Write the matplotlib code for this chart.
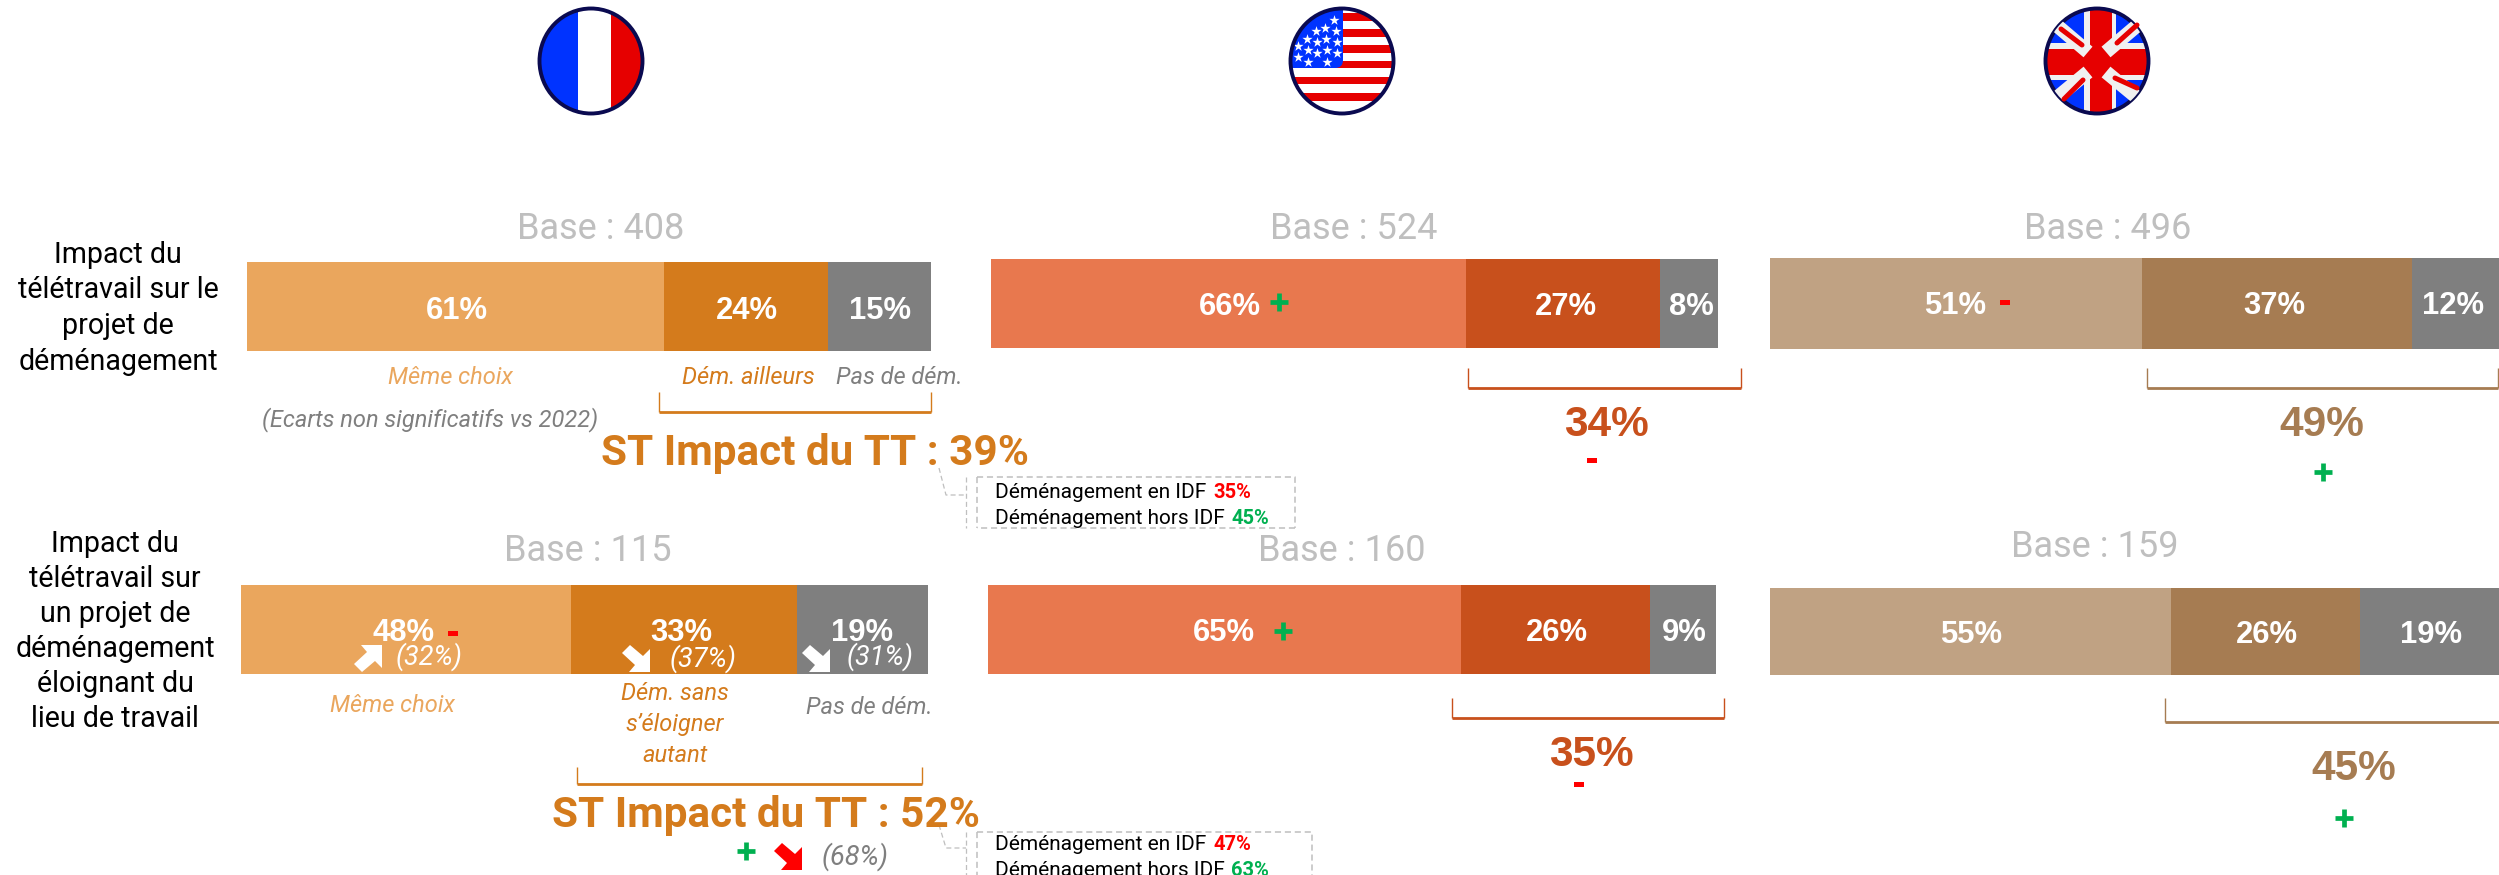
import matplotlib
matplotlib.use("Agg")
import matplotlib.pyplot as plt
from matplotlib.patches import Ellipse, Rectangle, Polygon, FancyBboxPatch

W, H = 2499, 875

# ── data ──────────────────────────────────────────────────────────────────────
fr_top = [61, 24, 15]
us_top = [66, 27, 8]
uk_top = [51, 37, 12]
fr_bot = [48, 33, 19]
us_bot = [65, 26, 9]
uk_bot = [55, 26, 19]

bases = ["Base : 408", "Base : 524", "Base : 496", "Base : 115", "Base : 160", "Base : 159"]
row_label_top = ["Impact du", "télétravail sur le", "projet de", "déménagement"]
row_label_bot = ["Impact du", "télétravail sur", "un projet de", "déménagement", "éloignant du", "lieu de travail"]
fr_prev = ["(32%)", "(37%)", "(31%)"]
st_text = ["ST Impact du TT : 39%", "ST Impact du TT : 52%"]
us_uk_totals = ["34%", "49%", "35%", "45%"]
idf_in = ["35%", "47%"]
idf_out = ["45%", "63%"]

# ── style ─────────────────────────────────────────────────────────────────────
FR = ("#EAA65D", "#D47B1C", "#7F7F7F")
US = ("#E8784E", "#C8501C", "#7F7F7F")
UK = ("#C0A283", "#A67C52", "#7F7F7F")
GREEN, RED, GREY, LGREY = "#00B050", "#FF0000", "#7F7F7F", "#BFBFBF"
SANS = "Roboto"
NUM = "Liberation Sans"

fig = plt.figure(figsize=(W / 100, H / 100), dpi=100)
ax = fig.add_axes([0, 0, 1, 1])
ax.set_xlim(0, W)
ax.set_ylim(H, 0)
ax.axis("off")


def stacked(vals, colors, x0, x1, y0, y1, label_xs, label_y):
    scale = (x1 - x0) / sum(vals)
    left = x0
    for v, c, lx in zip(vals, colors, label_xs):
        ax.barh(y0, v * scale, height=y1 - y0, left=left, align="edge", color=c, lw=0)
        ax.text(lx, label_y + 3, f"{v}%", color="white", fontsize=22.3, fontweight="bold",
                family=NUM, ha="center", va="center")
        left += v * scale


def bracket(x0, x1, y0, y1, color):
    ax.plot([x0, x0], [y0, y1], color=color, lw=1, solid_capstyle="butt")
    ax.plot([x1, x1], [y0, y1], color=color, lw=1, solid_capstyle="butt")
    ax.plot([x0, x1], [y1, y1], color=color, lw=2, solid_capstyle="butt")


def plus(x, y, size=9):
    ax.plot([x - size, x + size], [y, y], color=GREEN, lw=3.4, solid_capstyle="butt")
    ax.plot([x, x], [y - size, y + size], color=GREEN, lw=3.4, solid_capstyle="butt")


def minus(x, y):
    ax.add_patch(Rectangle((x - 5, y - 2.5), 10, 5, color=RED, lw=0))


def block_arrow(x, y, color, up=False):
    s = 1 if up else -1
    pts = [(-7, -13), (14, -13), (14, 10), (7, 3), (-6, 14), (-14, 6), (-1, -6)]
    pts = [(x + px, y + s * py) for px, py in pts]
    ax.add_patch(Polygon(pts, closed=True, color=color, lw=0))


def sublabel(x, y, txt, color, fs=17):
    ax.text(x, y, txt, color=color, fontsize=fs, style="italic", family=SANS, ha="center", va="center")


def callout(y0, y1, ytxt1, ytxt2, xr, lead_y0, lead_y1, p_in, p_out):
    ls = (0, (4, 2.5))
    ax.plot([977, xr, xr], [y0, y0, y1], color=LGREY, lw=1.1, ls=ls)
    ax.plot([977, 977], [y0, y1], color=LGREY, lw=1.1, ls=ls)
    ax.plot([xr, 977], [y1, y1], color=LGREY, lw=1.1, ls=ls)
    ax.plot([966, 966], [y0, y1], color=LGREY, lw=0.9, ls=ls)
    ax.plot([939, 946, 966], [lead_y0, lead_y1, lead_y1], color=LGREY, lw=0.9, ls=ls)
    ax.text(995, ytxt1, "Déménagement en IDF", fontsize=15, family=SANS, va="center", color="black")
    ax.text(1213, ytxt1, p_in, fontsize=14.5, family=SANS, fontweight="bold", va="center", color=RED)
    ax.text(995, ytxt2, "Déménagement hors IDF", fontsize=15, family=SANS, va="center", color="black")
    ax.text(1231, ytxt2, p_out, fontsize=14.5, family=SANS, fontweight="bold", va="center", color=GREEN)


# ── flags ─────────────────────────────────────────────────────────────────────
NAVY = "#0A0A50"
R, B = "#E60000", "#0033FF"
WH = "#F0F0F0"


def flag_clip(cx, cy):
    e = Ellipse((cx, cy), 103, 105, fc="white", ec="none")
    ax.add_patch(e)
    return e


def flag_ring(cx, cy):
    ax.add_patch(Ellipse((cx, cy), 103, 105, fc="none", ec=NAVY, lw=2.8))


# France
clip = flag_clip(591, 61)
for x, w, c in [(539, 39, B), (578, 33, "white"), (611, 33, R)]:
    ax.add_patch(Rectangle((x, 5), w, 112, color=c, lw=0, clip_path=clip))
flag_ring(591, 61)

# USA
clip = flag_clip(1342, 61)
for y, h in [(13, 8), (29, 8), (45, 8), (61, 7), (77, 7), (93, 8)]:
    ax.add_patch(Rectangle((1285, y), 115, h, color=R, lw=0, clip_path=clip))
ax.add_patch(FancyBboxPatch((1280, 0), 63, 68, boxstyle="round,pad=0,rounding_size=8",
                            fc=B, ec="none", clip_path=clip))
star_x = [1334, 1325, 1316, 1336, 1307, 1326, 1317, 1337, 1298, 1308, 1327, 1317, 1337, 1298, 1308, 1327]
star_y = [20, 28, 31, 31, 39, 39, 42, 42, 46, 50, 50, 53, 53, 57, 62, 62]
ax.scatter(star_x, star_y, marker="*", s=60, color="white", lw=0)
flag_ring(1342, 61)

# UK
clip = flag_clip(2097, 61)
ax.add_patch(Rectangle((2040, 5), 120, 112, color=B, lw=0, clip_path=clip))
diag_x = [(2048, 2088), (2146, 2106), (2048, 2088), (2146, 2106)]
diag_y = [(18, 52), (18, 52), (105, 72), (105, 72)]
for dx, dy in zip(diag_x, diag_y):
    ln, = ax.plot(dx, dy, color=WH, lw=10, solid_capstyle="butt")
    ln.set_clip_path(clip)
ax.add_patch(Rectangle((2084, 5), 32, 112, color=WH, lw=0, clip_path=clip))
ax.add_patch(Rectangle((2040, 43), 120, 37, color=WH, lw=0, clip_path=clip))
for dx, dy in [((2061, 2082), (29, 45)), ((2137, 2117), (25, 43)), ((2064, 2083), (99, 80)), ((2137, 2115), (88, 78))]:
    ax.plot(dx, dy, color=R, lw=3.6, solid_capstyle="round")
ax.add_patch(Rectangle((2090, 5), 22, 112, color=R, lw=0, clip_path=clip))
ax.add_patch(Rectangle((2040, 49), 120, 26, color=R, lw=0, clip_path=clip))
flag_ring(2097, 61)

# ── bars ──────────────────────────────────────────────────────────────────────
stacked(fr_top, FR, 247, 931, 262, 351, [457, 747, 880], 308)
stacked(us_top, US, 991, 1718, 259, 348, [1230, 1566, 1691], 304)
stacked(uk_top, UK, 1770, 2499, 258, 349, [1955, 2274, 2453], 303)
stacked(fr_bot, FR, 241, 928, 585, 674, [404, 681, 862], 630)
stacked(us_bot, US, 988, 1716, 585, 674, [1224, 1557, 1684], 630)
stacked(uk_bot, UK, 1770, 2499, 588, 675, [1971, 2267, 2431], 632)

for (x, y), txt in zip([(601, 229), (1354, 229), (2108, 229), (588, 551), (1342, 551), (2095, 547)], bases):
    ax.text(x, y, txt, color=LGREY, fontsize=26, family=SANS, ha="center", va="center")

# ── left labels ───────────────────────────────────────────────────────────────
for i, line in enumerate(row_label_top):
    ax.text(118, 255 + 35.5 * i, line, fontsize=20.6, family=SANS, ha="center", va="center", color="black")
for i, line in enumerate(row_label_bot):
    ax.text(115, 544 + 35 * i, line, fontsize=20.6, family=SANS, ha="center", va="center", color="black")

# ── France annotations ────────────────────────────────────────────────────────
sublabel(450, 377, "Même choix", FR[0])
sublabel(748, 377, "Dém. ailleurs", FR[1])
sublabel(899, 377, "Pas de dém.", GREY)
sublabel(430, 420, "(Ecarts non significatifs vs 2022)", GREY)
bracket(659, 931, 392, 412, FR[1])
ax.text(601, 454, st_text[0], color=FR[1], fontsize=30.4, fontweight="bold", family=SANS, va="center")
callout(477, 528, 492, 519, 1295, 468, 495, idf_in[0], idf_out[0])

minus(453, 633)
block_arrow(368, 658, "white", up=True)
block_arrow(636, 659, "white")
block_arrow(816, 659, "white")
for x, y, t in zip([429, 703, 880], [657, 659, 657], fr_prev):
    sublabel(x, y, t, "white", fs=19.5)
sublabel(392, 705, "Même choix", FR[0])
for y, t in zip([694, 725, 756], ["Dém. sans", "s’éloigner", "autant"]):
    sublabel(675, y, t, FR[1])
sublabel(869, 707, "Pas de dém.", GREY)
bracket(577, 922, 767, 784, FR[1])
ax.text(552, 815, st_text[1], color=FR[1], fontsize=30.4, fontweight="bold", family=SANS, va="center")
plus(746, 851)
block_arrow(788, 857, RED)
sublabel(855, 857, "(68%)", GREY, fs=19.5)
callout(832, 885, 845, 871, 1312, 825, 848, idf_in[1], idf_out[1])

# ── US / UK annotations ───────────────────────────────────────────────────────
plus(1279, 302)
minus(2005, 302)
plus(1283, 631)
bracket(1468, 1741, 368, 388, US[1])
bracket(2147, 2498, 368, 388, UK[1])
bracket(1452, 1724, 698, 718, US[1])
bracket(2165, 2510, 698, 722, UK[1])
for (x, y), t, c in zip([(1606, 425), (2322, 425), (1591, 755), (2354, 769)], us_uk_totals,
                        [US[1], UK[1], US[1], UK[1]]):
    ax.text(x, y, t, color=c, fontsize=30.5, fontweight="bold", family=NUM, ha="center", va="center")
minus(1592, 460)
plus(2323, 472)
minus(1579, 784)
plus(2344, 818)

fig.savefig("out.png", dpi=100)
